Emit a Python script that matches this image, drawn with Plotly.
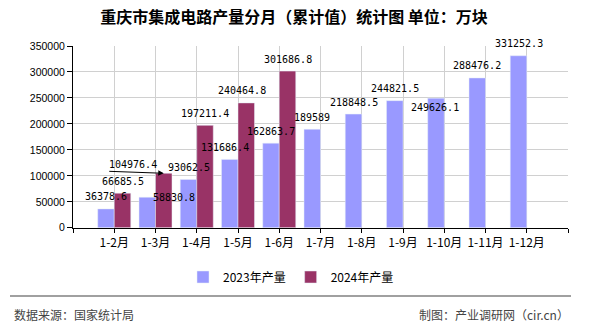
import plotly.graph_objects as go

categories = ["1-2月", "1-3月", "1-4月", "1-5月", "1-6月", "1-7月", "1-8月", "1-9月", "1-10月", "1-11月", "1-12月"]
values_2023 = [36378.6, 58830.8, 93062.5, 131686.4, 162863.7, 189589, 218848.5, 244821.5, 249626.1, 288476.2, 331252.3]
values_2024 = [66685.5, 104976.4, 197211.4, 240464.8, 301686.8]
series_names = ["2023年产量", "2024年产量"]
y_ticks = [0, 50000, 100000, 150000, 200000, 250000, 300000, 350000]

title_text = "重庆市集成电路产量分月（累计值）统计图 单位：万块"
source_text = "数据来源：国家统计局"
maker_text = "制图：产业调研网（cir.cn）"

W, H = 590, 330
L, R, T, B = 73, 22, 45.5, 100.7
PW, PH = W - L - R, H - T - B

def px(x):
    return (x - L) / PW

def py(y):
    return (H - B - y) / PH

def fmt(v):
    return str(int(v)) if float(v).is_integer() else f"{v:.1f}"

# label position tweaks (pixels): (series, index) -> (xshift, yshift)
label_shift = {
    (0, 1): (27, 0),
    (1, 1): (-31, 9),
    (0, 8): (-1, -9),
    (0, 3): (-5, 12),
    (1, 3): (-4, 12),
}

fig = go.Figure()
xs = list(range(len(categories)))
fig.add_trace(go.Bar(x=xs, y=values_2023, name=series_names[0], marker_color="#9999FF"))
fig.add_trace(go.Bar(x=xs[:len(values_2024)], y=values_2024, name=series_names[1], marker_color="#993366"))

annotations = []
for s, vals in enumerate([values_2023, values_2024]):
    off = -0.2 if s == 0 else 0.2
    for i, v in enumerate(vals):
        xsft, ysft = label_shift.get((s, i), (0, 12))
        annotations.append(dict(
            x=i + off, y=v, xref="x", yref="y", text=fmt(v), showarrow=False,
            xanchor="center", yanchor="middle", xshift=xsft, yshift=ysft,
            font=dict(family="DejaVu Sans Mono", size=10, color="#000000"),
        ))

# arrow pointing to displaced label
annotations.append(dict(
    x=1 + 0.2, y=values_2024[1], xref="x", yref="y", text="", showarrow=True,
    ax=-56, ay=-2, arrowhead=2, arrowsize=1.1, arrowwidth=1, arrowcolor="#000000",
))

annotations.append(dict(
    x=px(12), y=py(316.7), xref="paper", yref="paper", text=source_text, showarrow=False,
    xanchor="left", yanchor="middle", font=dict(family="Noto Sans CJK SC", size=12, color="#444444"),
))
annotations.append(dict(
    x=px(571), y=py(316.7), xref="paper", yref="paper", text=maker_text, showarrow=False,
    xanchor="right", yanchor="middle", font=dict(family="Noto Sans CJK SC", size=12, color="#444444"),
))

fig.update_layout(
    width=W, height=H,
    margin=dict(l=L, r=R, t=T, b=B, pad=0),
    paper_bgcolor="white", plot_bgcolor="white",
    barmode="group", bargap=0.2, bargroupgap=0,
    title=dict(text=title_text, x=294 / W, xanchor="center", y=1 - 17 / H, yanchor="middle",
               xref="container", yref="container",
               font=dict(family="Noto Sans CJK SC", size=16, color="#000000", weight="bold")),
    legend=dict(orientation="h", x=291 / W, xanchor="center", xref="container",
                y=1 - 277 / H, yanchor="middle", yref="container",
                font=dict(family="Noto Sans CJK SC", size=12, color="#000000"),
                itemwidth=30, traceorder="normal", bgcolor="rgba(0,0,0,0)"),
    annotations=annotations,
    shapes=[dict(type="line", xref="paper", yref="paper", x0=px(10), x1=px(571),
                 y0=py(298.3), y1=py(298.3), line=dict(color="#808080", width=1.5))],
    xaxis=dict(
        range=[-1, len(categories)], tickmode="array",
        tickvals=list(range(-1, len(categories) + 1)),
        ticktext=[""] + categories + [""],
        showgrid=True, gridcolor="#D0D0D0", gridwidth=1, zeroline=False,
        showline=True, linecolor="#000000", linewidth=1,
        ticks="outside", ticklen=4, tickcolor="#000000",
        tickfont=dict(family="Noto Sans CJK SC", size=12, color="#000000"),
        fixedrange=True,
    ),
    yaxis=dict(
        range=[0, 350000], tickmode="array", tickvals=y_ticks,
        ticktext=[str(v) for v in y_ticks],
        showgrid=True, gridcolor="#D0D0D0", gridwidth=1, zeroline=False,
        showline=True, linecolor="#000000", linewidth=1,
        ticks="outside", ticklen=5, tickcolor="#000000",
        tickfont=dict(family="Liberation Sans", size=10.5, color="#000000"),
        fixedrange=True,
    ),
)

fig.write_html("out.html")
